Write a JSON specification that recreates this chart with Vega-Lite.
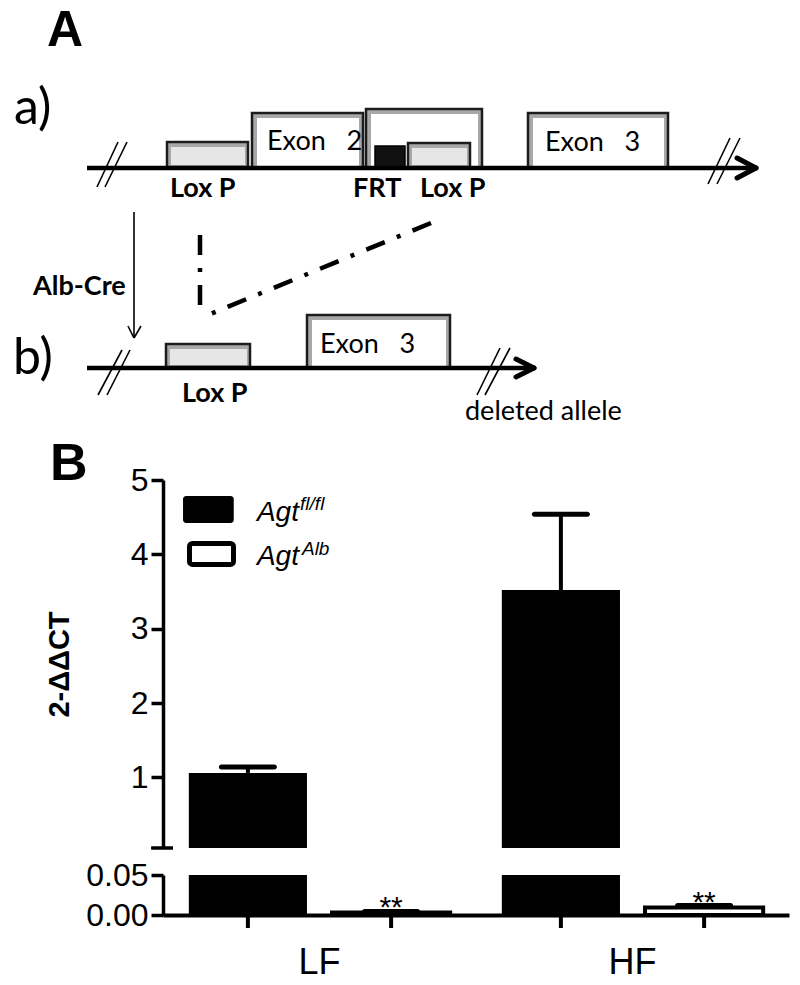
{
  "$schema": "https://vega.github.io/schema/vega-lite/v6.json",
  "padding": {"left": 13, "top": 0, "right": 5, "bottom": 5},
  "background": "white",
  "spacing": 27,
  "bounds": "flush",
  "config": {
    "view": {"stroke": null},
    "font": "Liberation Sans",
    "axis": {"domainColor": "black", "domainWidth": 3.5, "tickColor": "black", "tickWidth": 3.5, "tickSize": 12, "labelColor": "black", "labelFont": "Liberation Sans", "labelFontSize": 32, "labelPadding": 3, "grid": false, "titleColor": "black"}
  },
  "datasets": {
    "boxes": [
      {"name": "exon2b", "layer": "back", "kind": "exon", "x0": 366, "x1": 482, "y0": 109, "y1": 168, "ix0": 371, "ix1": 478, "iy0": 114, "iy1": 166},
      {"name": "loxp1", "layer": "front", "kind": "loxp", "x0": 167, "x1": 248, "y0": 142, "y1": 168, "ix0": 171, "ix1": 245, "iy0": 147, "iy1": 165},
      {"name": "exon2", "layer": "front", "kind": "exon", "x0": 252, "x1": 363, "y0": 113, "y1": 168, "ix0": 257, "ix1": 359, "iy0": 118, "iy1": 166},
      {"name": "frt", "layer": "front", "kind": "frt", "x0": 375, "x1": 405, "y0": 146, "y1": 168, "ix0": 375, "ix1": 405, "iy0": 146, "iy1": 168},
      {"name": "loxp2", "layer": "front", "kind": "loxp", "x0": 408, "x1": 470, "y0": 143, "y1": 168, "ix0": 412, "ix1": 467, "iy0": 148, "iy1": 165},
      {"name": "exon3", "layer": "front", "kind": "exon", "x0": 528, "x1": 668, "y0": 113, "y1": 168, "ix0": 533, "ix1": 664, "iy0": 118, "iy1": 166},
      {"name": "loxpb", "layer": "front", "kind": "loxp", "x0": 166, "x1": 250, "y0": 344, "y1": 368, "ix0": 170, "ix1": 247, "iy0": 349, "iy1": 365},
      {"name": "exon3b", "layer": "front", "kind": "exon", "x0": 307, "x1": 450, "y0": 315, "y1": 368, "ix0": 312, "ix1": 446, "iy0": 320, "iy1": 366}
    ],
    "lines": [
      {"x0": 87, "y0": 168, "x1": 755, "y1": 168, "style": "thick"},
      {"x0": 737, "y0": 158, "x1": 756, "y1": 168, "style": "head"},
      {"x0": 737, "y0": 178, "x1": 756, "y1": 168, "style": "head"},
      {"x0": 87, "y0": 368, "x1": 533, "y1": 368, "style": "thick"},
      {"x0": 516, "y0": 359, "x1": 534, "y1": 368, "style": "head"},
      {"x0": 516, "y0": 377, "x1": 534, "y1": 368, "style": "head"},
      {"x0": 97, "y0": 187, "x1": 118, "y1": 142, "style": "thin"},
      {"x0": 105, "y0": 187, "x1": 127, "y1": 142, "style": "thin"},
      {"x0": 708, "y0": 184, "x1": 730, "y1": 138, "style": "thin"},
      {"x0": 717, "y0": 184, "x1": 740, "y1": 138, "style": "thin"},
      {"x0": 98, "y0": 395, "x1": 122, "y1": 350, "style": "thin"},
      {"x0": 107, "y0": 395, "x1": 130, "y1": 350, "style": "thin"},
      {"x0": 477, "y0": 395, "x1": 500, "y1": 348, "style": "thin"},
      {"x0": 485, "y0": 395, "x1": 510, "y1": 348, "style": "thin"},
      {"x0": 134, "y0": 212, "x1": 134, "y1": 338, "style": "thin"},
      {"x0": 128, "y0": 326, "x1": 134, "y1": 338, "style": "thin"},
      {"x0": 141, "y0": 326, "x1": 134, "y1": 338, "style": "thin"},
      {"x0": 200, "y0": 235, "x1": 200, "y1": 308, "style": "dash"},
      {"x0": 431, "y0": 223, "x1": 208, "y1": 315, "style": "dash"}
    ],
    "labels": [
      {"text": "A", "x": 47, "y": 46, "cls": "panel"},
      {"text": "a)", "x": 14, "y": 124, "cls": "part"},
      {"text": "b)", "x": 13, "y": 374, "cls": "part"},
      {"text": "Exon\u00a0\u00a0\u00a02", "x": 267, "y": 150, "cls": "exon"},
      {"text": "Exon\u00a0\u00a0\u00a03", "x": 545, "y": 151, "cls": "exon"},
      {"text": "Exon\u00a0\u00a0\u00a03", "x": 320, "y": 353, "cls": "exon"},
      {"text": "deleted allele", "x": 465, "y": 420, "cls": "exon"},
      {"text": "Lox P", "x": 170, "y": 197, "cls": "site"},
      {"text": "FRT", "x": 353, "y": 197, "cls": "site"},
      {"text": "Lox P", "x": 420, "y": 197, "cls": "site"},
      {"text": "Lox P", "x": 182, "y": 402, "cls": "site"},
      {"text": "Alb-Cre", "x": 33, "y": 295, "cls": "site"}
    ],
    "bars": [
      {"group": "LF", "genotype": "Agt fl/fl", "mean": 1.06, "upper": 1.14, "sig": ""},
      {"group": "LF", "genotype": "Agt Alb", "mean": 0.003, "upper": 0.0045, "sig": "**"},
      {"group": "HF", "genotype": "Agt fl/fl", "mean": 3.52, "upper": 4.54, "sig": ""},
      {"group": "HF", "genotype": "Agt Alb", "mean": 0.0095, "upper": 0.0118, "sig": "**"}
    ],
    "legend": [
      {"genotype": "Agt fl/fl", "base": "Agt", "sup": "fl/fl", "lx0": 0.032, "lx1": 0.113, "ly0": 4.785, "ly1": 4.422, "tx": 0.150, "ty": 4.448, "sx": 0.219, "sy": 4.596},
      {"genotype": "Agt Alb", "base": "Agt", "sup": "Alb", "lx0": 0.0423, "lx1": 0.1126, "ly0": 4.146, "ly1": 3.864, "tx": 0.150, "ty": 3.857, "sx": 0.222, "sy": 3.991}
    ]
  },
  "vconcat": [
    {
      "width": 626,
      "height": 453,
      "layer": [
        {
          "data": {"name": "boxes"},
          "transform": [{"filter": {"field": "layer", "equal": "back"}}],
          "mark": {"type": "rect", "fill": "#a8a8a8", "stroke": "#1c1c1c", "strokeWidth": 2.5},
          "encoding": {
            "x": {"field": "x0", "type": "quantitative", "scale": {"domain": [163, 789], "nice": false, "zero": false}, "axis": null},
            "x2": {"field": "x1"},
            "y": {"field": "y0", "type": "quantitative", "scale": {"domain": [0, 453], "reverse": true, "nice": false, "zero": false}, "axis": null},
            "y2": {"field": "y1"}
          }
        },
        {
          "data": {"name": "boxes"},
          "transform": [{"filter": {"field": "layer", "equal": "back"}}],
          "mark": {"type": "rect", "strokeWidth": 0},
          "encoding": {
            "x": {"field": "ix0", "type": "quantitative", "scale": {"domain": [163, 789], "nice": false, "zero": false}, "axis": null},
            "x2": {"field": "ix1"},
            "y": {"field": "iy0", "type": "quantitative", "scale": {"domain": [0, 453], "reverse": true, "nice": false, "zero": false}, "axis": null},
            "y2": {"field": "iy1"},
            "fill": {"field": "kind", "type": "nominal", "scale": {"domain": ["exon", "loxp"], "range": ["#ffffff", "#e6e6e6"]}, "legend": null}
          }
        },
        {
          "data": {"name": "boxes"},
          "transform": [{"filter": "datum.layer === 'front' && datum.kind !== 'frt'"}],
          "mark": {"type": "rect", "fill": "#a8a8a8", "stroke": "#1c1c1c", "strokeWidth": 2.5},
          "encoding": {
            "x": {"field": "x0", "type": "quantitative", "scale": {"domain": [163, 789], "nice": false, "zero": false}, "axis": null},
            "x2": {"field": "x1"},
            "y": {"field": "y0", "type": "quantitative", "scale": {"domain": [0, 453], "reverse": true, "nice": false, "zero": false}, "axis": null},
            "y2": {"field": "y1"}
          }
        },
        {
          "data": {"name": "boxes"},
          "transform": [{"filter": {"field": "kind", "equal": "frt"}}],
          "mark": {"type": "rect", "fill": "#111111", "stroke": "#000000", "strokeWidth": 1.5},
          "encoding": {
            "x": {"field": "x0", "type": "quantitative", "scale": {"domain": [163, 789], "nice": false, "zero": false}, "axis": null},
            "x2": {"field": "x1"},
            "y": {"field": "y0", "type": "quantitative", "scale": {"domain": [0, 453], "reverse": true, "nice": false, "zero": false}, "axis": null},
            "y2": {"field": "y1"}
          }
        },
        {
          "data": {"name": "boxes"},
          "transform": [{"filter": "datum.layer === 'front' && datum.kind !== 'frt'"}],
          "mark": {"type": "rect", "strokeWidth": 0},
          "encoding": {
            "x": {"field": "ix0", "type": "quantitative", "scale": {"domain": [163, 789], "nice": false, "zero": false}, "axis": null},
            "x2": {"field": "ix1"},
            "y": {"field": "iy0", "type": "quantitative", "scale": {"domain": [0, 453], "reverse": true, "nice": false, "zero": false}, "axis": null},
            "y2": {"field": "iy1"},
            "fill": {"field": "kind", "type": "nominal", "scale": {"domain": ["exon", "loxp"], "range": ["#ffffff", "#e6e6e6"]}, "legend": null}
          }
        },
        {
          "data": {"name": "lines"},
          "transform": [{"filter": {"field": "style", "equal": "thick"}}],
          "mark": {"type": "rule", "color": "black", "strokeWidth": 4.5},
          "encoding": {
            "x": {"field": "x0", "type": "quantitative", "scale": {"domain": [163, 789], "nice": false, "zero": false}, "axis": null},
            "x2": {"field": "x1"},
            "y": {"field": "y0", "type": "quantitative", "scale": {"domain": [0, 453], "reverse": true, "nice": false, "zero": false}, "axis": null},
            "y2": {"field": "y1"}
          }
        },
        {
          "data": {"name": "lines"},
          "transform": [{"filter": {"field": "style", "equal": "head"}}],
          "mark": {"type": "rule", "color": "black", "strokeWidth": 5, "strokeCap": "round"},
          "encoding": {
            "x": {"field": "x0", "type": "quantitative", "scale": {"domain": [163, 789], "nice": false, "zero": false}, "axis": null},
            "x2": {"field": "x1"},
            "y": {"field": "y0", "type": "quantitative", "scale": {"domain": [0, 453], "reverse": true, "nice": false, "zero": false}, "axis": null},
            "y2": {"field": "y1"}
          }
        },
        {
          "data": {"name": "lines"},
          "transform": [{"filter": {"field": "style", "equal": "thin"}}],
          "mark": {"type": "rule", "color": "black", "strokeWidth": 1.6},
          "encoding": {
            "x": {"field": "x0", "type": "quantitative", "scale": {"domain": [163, 789], "nice": false, "zero": false}, "axis": null},
            "x2": {"field": "x1"},
            "y": {"field": "y0", "type": "quantitative", "scale": {"domain": [0, 453], "reverse": true, "nice": false, "zero": false}, "axis": null},
            "y2": {"field": "y1"}
          }
        },
        {
          "data": {"name": "lines"},
          "transform": [{"filter": {"field": "style", "equal": "dash"}}],
          "mark": {"type": "rule", "color": "black", "strokeWidth": 4.5, "strokeDash": [20, 13, 4, 13]},
          "encoding": {
            "x": {"field": "x0", "type": "quantitative", "scale": {"domain": [163, 789], "nice": false, "zero": false}, "axis": null},
            "x2": {"field": "x1"},
            "y": {"field": "y0", "type": "quantitative", "scale": {"domain": [0, 453], "reverse": true, "nice": false, "zero": false}, "axis": null},
            "y2": {"field": "y1"}
          }
        },
        {
          "data": {"name": "labels"},
          "transform": [{"filter": {"field": "cls", "equal": "panel"}}],
          "mark": {"type": "text", "align": "left", "baseline": "alphabetic", "font": "Liberation Sans", "fontWeight": "bold", "fontSize": 50, "color": "black"},
          "encoding": {
            "x": {"field": "x", "type": "quantitative", "scale": {"domain": [163, 789], "nice": false, "zero": false}, "axis": null},
            "y": {"field": "y", "type": "quantitative", "scale": {"domain": [0, 453], "reverse": true, "nice": false, "zero": false}, "axis": null},
            "text": {"field": "text"}
          }
        },
        {
          "data": {"name": "labels"},
          "transform": [{"filter": {"field": "cls", "equal": "part"}}],
          "mark": {"type": "text", "align": "left", "baseline": "alphabetic", "font": "Lato", "fontSize": 50, "color": "black"},
          "encoding": {
            "x": {"field": "x", "type": "quantitative", "scale": {"domain": [163, 789], "nice": false, "zero": false}, "axis": null},
            "y": {"field": "y", "type": "quantitative", "scale": {"domain": [0, 453], "reverse": true, "nice": false, "zero": false}, "axis": null},
            "text": {"field": "text"}
          }
        },
        {
          "data": {"name": "labels"},
          "transform": [{"filter": {"field": "cls", "equal": "exon"}}],
          "mark": {"type": "text", "align": "left", "baseline": "alphabetic", "font": "Lato", "fontSize": 27, "color": "black"},
          "encoding": {
            "x": {"field": "x", "type": "quantitative", "scale": {"domain": [163, 789], "nice": false, "zero": false}, "axis": null},
            "y": {"field": "y", "type": "quantitative", "scale": {"domain": [0, 453], "reverse": true, "nice": false, "zero": false}, "axis": null},
            "text": {"field": "text"}
          }
        },
        {
          "data": {"name": "labels"},
          "transform": [{"filter": {"field": "cls", "equal": "site"}}],
          "mark": {"type": "text", "align": "left", "baseline": "alphabetic", "font": "Lato", "fontWeight": "bold", "fontSize": 27, "color": "black"},
          "encoding": {
            "x": {"field": "x", "type": "quantitative", "scale": {"domain": [163, 789], "nice": false, "zero": false}, "axis": null},
            "y": {"field": "y", "type": "quantitative", "scale": {"domain": [0, 453], "reverse": true, "nice": false, "zero": false}, "axis": null},
            "text": {"field": "text"}
          }
        }
      ]
    },
    {
      "width": 626,
      "height": 368,
      "layer": [
        {
          "data": {"name": "bars"},
          "transform": [{"filter": "datum.mean > 0.05"}],
          "mark": {"type": "bar", "fill": "black", "stroke": null, "clip": true},
          "encoding": {
            "x": {"field": "group", "type": "nominal", "scale": {"domain": ["LF", "HF"], "paddingInner": 0.165, "paddingOuter": 0.0825}, "axis": null},
            "xOffset": {"field": "genotype", "type": "nominal", "scale": {"domain": ["Agt fl/fl", "Agt Alb"], "paddingInner": 0.175, "paddingOuter": 0}},
            "y": {"field": "mean", "type": "quantitative", "title": "2-ΔΔCT", "scale": {"domain": [0.05, 5], "nice": false, "zero": false},
                  "axis": {"values": [1, 2, 3, 4, 5], "format": "d", "titleFont": "Liberation Sans", "titleFontSize": 29, "titleFontWeight": "bold", "titlePadding": 56}},
            "y2": {"datum": 0.05}
          }
        },
        {
          "data": {"name": "bars"},
          "transform": [{"filter": "datum.mean > 0.05"}],
          "mark": {"type": "rule", "color": "black", "strokeWidth": 4, "clip": true},
          "encoding": {
            "x": {"field": "group", "type": "nominal", "scale": {"domain": ["LF", "HF"], "paddingInner": 0.165, "paddingOuter": 0.0825}, "axis": null},
            "xOffset": {"field": "genotype", "type": "nominal", "scale": {"domain": ["Agt fl/fl", "Agt Alb"], "paddingInner": 0.175, "paddingOuter": 0}},
            "y": {"field": "mean", "type": "quantitative", "title": "2-ΔΔCT"},
            "y2": {"field": "upper"}
          }
        },
        {
          "data": {"name": "bars"},
          "transform": [{"filter": "datum.mean > 0.05"}],
          "mark": {"type": "tick", "color": "black", "opacity": 1, "thickness": 5, "size": 58, "cornerRadius": 2.5, "clip": true},
          "encoding": {
            "x": {"field": "group", "type": "nominal", "scale": {"domain": ["LF", "HF"], "paddingInner": 0.165, "paddingOuter": 0.0825}, "axis": null},
            "xOffset": {"field": "genotype", "type": "nominal", "scale": {"domain": ["Agt fl/fl", "Agt Alb"], "paddingInner": 0.175, "paddingOuter": 0}},
            "y": {"field": "upper", "type": "quantitative", "title": "2-ΔΔCT"}
          }
        },
        {
          "data": {"name": "legend"},
          "transform": [{"filter": {"field": "sup", "equal": "fl/fl"}}],
          "mark": {"type": "rect", "fill": "black", "cornerRadius": 3},
          "encoding": {
            "x": {"field": "lx0", "type": "quantitative", "scale": {"domain": [0, 1], "nice": false, "zero": false}, "axis": null},
            "x2": {"field": "lx1"},
            "y": {"field": "ly0", "type": "quantitative", "title": "2-ΔΔCT"},
            "y2": {"field": "ly1"}
          }
        },
        {
          "data": {"name": "legend"},
          "transform": [{"filter": {"field": "sup", "equal": "Alb"}}],
          "mark": {"type": "rect", "fill": "white", "stroke": "black", "strokeWidth": 5, "cornerRadius": 3},
          "encoding": {
            "x": {"field": "lx0", "type": "quantitative", "scale": {"domain": [0, 1], "nice": false, "zero": false}, "axis": null},
            "x2": {"field": "lx1"},
            "y": {"field": "ly0", "type": "quantitative", "title": "2-ΔΔCT"},
            "y2": {"field": "ly1"}
          }
        },
        {
          "data": {"name": "legend"},
          "mark": {"type": "text", "align": "left", "baseline": "alphabetic", "font": "Liberation Sans", "fontStyle": "italic", "fontSize": 28, "color": "black"},
          "encoding": {
            "x": {"field": "tx", "type": "quantitative", "scale": {"domain": [0, 1], "nice": false, "zero": false}, "axis": null},
            "y": {"field": "ty", "type": "quantitative", "title": "2-ΔΔCT"},
            "text": {"field": "base"}
          }
        },
        {
          "data": {"name": "legend"},
          "mark": {"type": "text", "align": "left", "baseline": "alphabetic", "font": "Liberation Sans", "fontStyle": "italic", "fontSize": 19, "color": "black"},
          "encoding": {
            "x": {"field": "sx", "type": "quantitative", "scale": {"domain": [0, 1], "nice": false, "zero": false}, "axis": null},
            "y": {"field": "sy", "type": "quantitative", "title": "2-ΔΔCT"},
            "text": {"field": "sup"}
          }
        },
        {
          "data": {"values": [{"label": "B"}]},
          "mark": {"type": "text", "align": "left", "baseline": "alphabetic", "font": "Liberation Sans", "fontWeight": "bold", "fontSize": 52, "color": "black"},
          "encoding": {
            "x": {"datum": -0.1805, "type": "quantitative", "scale": {"domain": [0, 1], "nice": false, "zero": false}, "axis": null},
            "y": {"datum": 5, "type": "quantitative", "title": "2-ΔΔCT"},
            "text": {"field": "label"}
          }
        },
        {
          "data": {"values": [{"break": "upper end"}]},
          "mark": {"type": "rule", "color": "black", "strokeWidth": 3.5},
          "encoding": {
            "x": {"datum": -0.019, "type": "quantitative", "scale": {"domain": [0, 1], "nice": false, "zero": false}, "axis": null},
            "x2": {"datum": 0.016},
            "y": {"datum": 0.05, "type": "quantitative", "title": "2-ΔΔCT"}
          }
        }
      ],
      "resolve": {"scale": {"x": "independent"}}
    },
    {
      "width": 626,
      "height": 40,
      "data": {"name": "bars"},
      "layer": [
        {
          "transform": [{"filter": {"field": "genotype", "equal": "Agt fl/fl"}}],
          "mark": {"type": "bar", "color": "black", "clip": true},
          "encoding": {
            "x": {"field": "group", "type": "nominal", "title": null, "scale": {"domain": ["LF", "HF"], "paddingInner": 0.165, "paddingOuter": 0.0825}, "axis": {"ticks": false, "labelFontSize": 36, "labelPadding": 30, "labelAngle": 0, "domainWidth": 4}},
            "xOffset": {"field": "genotype", "type": "nominal", "scale": {"domain": ["Agt fl/fl", "Agt Alb"], "paddingInner": 0.175, "paddingOuter": 0}},
            "y": {"field": "mean", "type": "quantitative", "title": null, "scale": {"domain": [0, 0.05], "nice": false, "zero": false}, "axis": {"values": [0, 0.05], "format": ".2f"}}
          }
        },
        {
          "transform": [{"filter": {"field": "genotype", "equal": "Agt Alb"}}],
          "mark": {"type": "bar", "fill": "white", "stroke": "black", "strokeWidth": 4, "clip": true},
          "encoding": {
            "x": {"field": "group", "type": "nominal", "title": null},
            "xOffset": {"field": "genotype", "type": "nominal"},
            "y": {"field": "mean", "type": "quantitative", "title": null}
          }
        },
        {
          "mark": {"type": "rule", "color": "black", "strokeWidth": 4, "clip": true},
          "encoding": {
            "x": {"field": "group", "type": "nominal", "title": null},
            "xOffset": {"field": "genotype", "type": "nominal"},
            "y": {"field": "mean", "type": "quantitative", "title": null},
            "y2": {"field": "upper"}
          }
        },
        {
          "mark": {"type": "tick", "color": "black", "opacity": 1, "thickness": 5, "size": 58, "cornerRadius": 2.5, "clip": true},
          "encoding": {
            "x": {"field": "group", "type": "nominal", "title": null},
            "xOffset": {"field": "genotype", "type": "nominal"},
            "y": {"field": "upper", "type": "quantitative", "title": null}
          }
        },
        {
          "transform": [{"filter": "datum.sig !== ''"}],
          "mark": {"type": "text", "align": "center", "baseline": "alphabetic", "dy": 6, "font": "Liberation Sans", "fontSize": 30, "color": "black"},
          "encoding": {
            "x": {"field": "group", "type": "nominal", "title": null},
            "xOffset": {"field": "genotype", "type": "nominal"},
            "y": {"field": "upper", "type": "quantitative", "title": null},
            "text": {"field": "sig"}
          }
        },
        {
          "mark": {"type": "rule", "color": "black", "strokeWidth": 4},
          "encoding": {
            "x": {"field": "group", "type": "nominal", "title": null},
            "xOffset": {"field": "genotype", "type": "nominal"},
            "y": {"datum": 0, "type": "quantitative", "title": null},
            "y2": {"datum": -0.01625}
          }
        }
      ]
    }
  ]
}
